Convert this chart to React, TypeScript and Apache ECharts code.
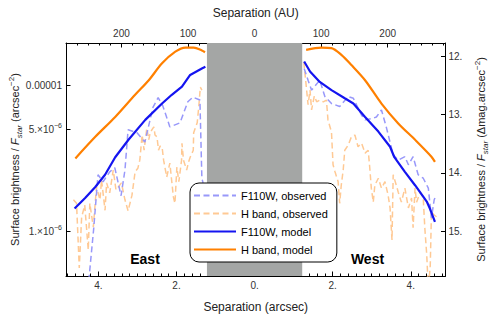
import React, { useEffect, useRef } from "react";
import * as echarts from "echarts";

// ---------- axes ----------
const SEP_MIN = -4.83; // arcsec (east negative)
const SEP_MAX = 4.89;
const AU_PER_ARCSEC = 58.65;
const MAG_TOP = 11.772; // Δmag at the top of the plot
const MAG_BOTTOM = 15.766; // Δmag at the bottom of the plot
const CORONAGRAPH = [-1.22, 1.22];

const sepTicks = [-4, -2, 0, 2, 4];
const auTicks = [-200, -100, 0, 100, 200];
const fluxTicks = [1e-6, 5e-6, 1e-5];
const fluxMinorTicks = [6e-7, 7e-7, 8e-7, 9e-7, 2e-6, 3e-6, 4e-6, 6e-6, 7e-6, 8e-6, 9e-6];
const magTicks = [12, 13, 14, 15];

// ---------- data: [separation (arcsec), Δmag] ----------
const f110wModelEast = [
  [-4.61, 14.61], [-4.34, 14.43], [-4.08, 14.24], [-3.83, 14.03], [-3.57, 13.73], [-3.23, 13.43],
  [-2.8, 13.09], [-2.37, 12.81], [-2.12, 12.66], [-1.86, 12.52], [-1.65, 12.32], [-1.35, 12.21], [-1.26, 12.18],
];
const f110wModelWest = [
  [1.27, 12.09], [1.42, 12.26], [1.67, 12.44], [1.97, 12.58], [2.31, 12.72], [2.53, 12.81], [2.83, 13.04],
  [3.17, 13.29], [3.47, 13.55], [3.58, 13.73], [3.85, 13.98], [4.11, 14.21], [4.41, 14.49], [4.49, 14.61], [4.62, 14.84],
];
const hModelEast = [
  [-4.59, 13.75], [-4.08, 13.38], [-3.57, 13.04], [-3.06, 12.66], [-2.71, 12.41], [-2.37, 12.12],
  [-2.03, 11.92], [-1.77, 11.85], [-1.56, 11.85], [-1.35, 11.9], [-1.27, 11.93],
];
const hModelWest = [
  [1.32, 11.89], [1.71, 11.85], [1.97, 11.86], [2.23, 11.98], [2.48, 12.15], [2.83, 12.41],
  [3.25, 12.81], [3.68, 13.15], [4.11, 13.43], [4.53, 13.72], [4.62, 13.81],
];
const f110wObsEast = [
  [-4.27, 16.01], [-4.12, 14.95], [-4.01, 14.03], [-3.88, 14.15], [-3.71, 13.98], [-3.58, 13.91], [-3.42, 14.39],
  [-3.32, 13.95], [-3.24, 13.26], [-3.01, 13.31], [-2.81, 13.47], [-2.6, 12.87], [-2.47, 12.71], [-2.35, 12.85],
  [-2.17, 13.21], [-1.91, 13.14], [-1.71, 12.78], [-1.58, 12.7], [-1.4, 12.75], [-1.35, 14.09], [-1.32, 14.17],
];
const f110wObsWest = [
  [1.27, 12.21], [1.37, 12.41], [1.46, 12.58], [1.67, 12.41], [1.8, 12.69], [1.97, 12.81], [2.18, 12.86],
  [2.4, 12.69], [2.53, 12.72], [2.74, 13.01], [2.83, 13.09], [3.04, 13.06], [3.12, 13.04], [3.25, 12.92],
  [3.38, 13.23], [3.55, 13.69], [3.68, 13.78], [3.85, 13.72], [3.94, 13.86], [4.06, 13.72], [4.19, 14.03],
  [4.32, 14.09], [4.45, 14.26], [4.53, 14.77], [4.6, 14.46], [4.65, 14.38],
];
const hObsEast = [
  [-4.64, 14.46], [-4.56, 14.52], [-4.49, 15.63], [-4.43, 14.76], [-4.35, 14.55], [-4.26, 15.32], [-4.22, 14.52],
  [-4.13, 14.93], [-4.05, 14.24], [-3.96, 14.46], [-3.92, 14.12], [-3.83, 14.64], [-3.79, 14.17], [-3.71, 14.34],
  [-3.62, 13.95], [-3.55, 14.29], [-3.49, 14.24], [-3.41, 14.17], [-3.32, 14.46], [-3.24, 14.65], [-3.14, 14.38],
  [-3.06, 13.98], [-2.99, 13.92], [-2.94, 13.78], [-2.88, 13.35], [-2.83, 13.61], [-2.76, 13.23], [-2.71, 13.43],
  [-2.67, 13.3], [-2.58, 13.21], [-2.55, 13.35], [-2.5, 13.38], [-2.46, 13.61], [-2.42, 13.54], [-2.37, 13.55],
  [-2.33, 13.78], [-2.25, 14.07], [-2.17, 13.83], [-2.08, 14.41], [-2.04, 14.52], [-1.99, 13.9], [-1.94, 14.15],
  [-1.87, 13.78], [-1.86, 13.49], [-1.82, 13.78], [-1.74, 13.95], [-1.69, 13.81], [-1.65, 13.73], [-1.57, 13.61],
  [-1.56, 13.31], [-1.47, 13.14], [-1.43, 12.87], [-1.39, 12.53], [-1.35, 12.58],
];
const hObsWest = [
  [1.26, 12.1], [1.32, 12.49], [1.37, 12.83], [1.42, 12.58], [1.46, 12.92], [1.53, 12.68], [1.59, 12.78],
  [1.67, 12.75], [1.76, 12.78], [1.84, 12.75], [1.88, 13.09], [1.97, 13.3], [2.01, 13.86], [2.06, 13.98],
  [2.14, 14.15], [2.18, 14.52], [2.22, 14.21], [2.27, 13.95], [2.31, 13.61], [2.4, 13.52], [2.48, 13.38],
  [2.57, 13.35], [2.65, 13.55], [2.74, 13.49], [2.83, 13.66], [2.91, 13.61], [2.95, 13.91], [2.99, 14.26],
  [3.04, 14.5], [3.08, 14.21], [3.17, 14.09], [3.25, 14.26], [3.34, 14.15], [3.42, 14.38], [3.47, 14.6],
  [3.52, 15.15], [3.55, 14.03], [3.63, 14.21], [3.68, 14.33], [3.76, 14.5], [3.85, 14.26], [3.94, 14.6],
  [4.02, 14.43], [4.06, 14.94], [4.11, 14.26], [4.15, 14.5], [4.24, 14.33], [4.32, 14.43], [4.36, 14.94],
  [4.41, 15.41], [4.45, 16.01], [4.5, 15.58], [4.53, 14.67], [4.6, 14.72], [4.66, 14.75],
];

const seriesNames = ["F110W, observed", "H band, observed", "F110W, model", "H band, model"];

const FONT = '"Liberation Sans", Arial, "DejaVu Sans", sans-serif';
const INK = "#222";

function joinSides(east: number[][], west: number[][]) {
  return [...east, [0, "-"], ...west];
}

function minorList(from: number, to: number, step: number, skipEvery: number) {
  const out: number[] = [];
  for (let i = Math.round(from / step); i <= Math.round(to / step); i++) {
    const v = +(i * step).toFixed(6);
    if (Math.abs(v / skipEvery - Math.round(v / skipEvery)) < 1e-6) continue;
    out.push(v);
  }
  return out;
}

const sepMinor = minorList(-4.8, 4.8, 0.2, 2);
const auMinor = minorList(-300, 300, 100 / 6, 100);
const magMinor = minorList(11.8, 15.6, 0.2, 1);

const nameRich = {
  t: { fontSize: 11, fontFamily: FONT, color: INK, lineHeight: 16 },
  i: { fontSize: 11, fontFamily: FONT, color: INK, fontStyle: "italic", lineHeight: 16 },
  sub: { fontSize: 8, fontFamily: FONT, color: INK, fontStyle: "italic", verticalAlign: "bottom", lineHeight: 9 },
  sup: { fontSize: 8, fontFamily: FONT, color: INK, verticalAlign: "top", lineHeight: 9 },
};

const lineAxis = { show: true, onZero: false, lineStyle: { color: "#000", width: 1 } };
const labelBase = { fontSize: 10, fontFamily: FONT, color: "#333" };

function minorAxis(extra: any, ticks: number[]) {
  return {
    type: "value",
    ...extra,
    axisLine: { show: false },
    axisTick: { show: true, inside: true, length: 2.5, customValues: ticks, lineStyle: { color: "#000", width: 1 } },
    axisLabel: { show: false },
    splitLine: { show: false },
  };
}

export default function App() {
  const ref = useRef<HTMLDivElement>(null);

  useEffect(() => {
    const chart = echarts.init(ref.current as HTMLDivElement, null, { renderer: "svg" });
    const option: any = {
      animation: false,
      backgroundColor: "#fff",
      grid: { left: 66, right: 45.5, top: 43, bottom: 44, containLabel: false, outerBoundsMode: "none" },
      xAxis: [
        {
          type: "value",
          position: "bottom",
          min: SEP_MIN,
          max: SEP_MAX,
          axisLine: lineAxis,
          axisTick: { show: true, inside: true, length: 4.5, customValues: sepTicks, lineStyle: { color: "#000" } },
          axisLabel: { ...labelBase, customValues: sepTicks, margin: 4, formatter: (v: number) => `${Math.abs(v)}.` },
          splitLine: { show: false },
          name: "Separation (arcsec)",
          nameLocation: "middle",
          nameGap: 25,
          nameTextStyle: { fontSize: 12, fontFamily: FONT, color: INK },
        },
        {
          type: "value",
          position: "top",
          min: SEP_MIN * AU_PER_ARCSEC,
          max: SEP_MAX * AU_PER_ARCSEC,
          axisLine: lineAxis,
          axisTick: { show: true, inside: true, length: 4.5, customValues: auTicks, lineStyle: { color: "#000" } },
          axisLabel: { ...labelBase, customValues: auTicks, margin: 5, formatter: (v: number) => `${Math.abs(v)}` },
          splitLine: { show: false },
          name: "Separation (AU)",
          nameLocation: "middle",
          nameGap: 24,
          nameTextStyle: { fontSize: 12, fontFamily: FONT, color: INK },
        },
        minorAxis({ position: "bottom", min: SEP_MIN, max: SEP_MAX }, sepMinor),
        minorAxis({ position: "top", min: SEP_MIN * AU_PER_ARCSEC, max: SEP_MAX * AU_PER_ARCSEC }, auMinor),
      ],
      yAxis: [
        {
          // log10 of surface brightness ratio (secondary scale, ticks only)
          type: "value",
          position: "left",
          min: -MAG_BOTTOM / 2.5,
          max: -MAG_TOP / 2.5,
          axisLine: lineAxis,
          axisTick: {
            show: true,
            inside: true,
            length: 4.5,
            customValues: fluxTicks.map((f) => Math.log10(f)),
            lineStyle: { color: "#000" },
          },
          axisLabel: {
            ...labelBase,
            margin: 4,
            customValues: fluxTicks.map((f) => Math.log10(f)),
            formatter: (v: number) => {
              const f = Math.pow(10, v);
              if (Math.abs(f - 1e-5) < 1e-9) return "0.00001";
              const exp = Math.floor(v + 1e-9);
              const mant = Math.round(f / Math.pow(10, exp));
              return `{m|${mant}.\u00d710}{e|\u2212${-exp}}`;
            },
            rich: {
              m: { fontSize: 10, fontFamily: FONT, color: "#333", lineHeight: 14 },
              e: { fontSize: 7, fontFamily: FONT, color: "#333", verticalAlign: "top", lineHeight: 8 },
            },
          },
          splitLine: { show: false },
          name: "{t|Surface brightness / }{i|F}{sub|star}{t| (arcsec}{sup|\u22122}{t|)}",
          nameLocation: "middle",
          nameRotate: 90,
          nameGap: 43,
          nameMoveOverlap: false,
          nameTextStyle: { fontSize: 11, fontFamily: FONT, color: INK, rich: nameRich },
        },
        {
          type: "value",
          position: "right",
          inverse: true,
          min: MAG_TOP,
          max: MAG_BOTTOM,
          axisLine: lineAxis,
          axisTick: { show: true, inside: true, length: 4.5, customValues: magTicks, lineStyle: { color: "#000" } },
          axisLabel: { ...labelBase, customValues: magTicks, margin: 3, formatter: (v: number) => `${v}.` },
          splitLine: { show: false },
          name: "{t|Surface brightness / }{i|F}{sub|star}{t| (\u0394mag.arcsec}{sup|\u22122}{t|)}",
          nameLocation: "middle",
          nameRotate: 90,
          nameGap: 26,
          nameTextStyle: { fontSize: 11, fontFamily: FONT, color: INK, rich: nameRich },
        },
        minorAxis({ position: "left", min: -MAG_BOTTOM / 2.5, max: -MAG_TOP / 2.5 }, fluxMinorTicks.map((f) => Math.log10(f))),
        minorAxis({ position: "right", inverse: true, min: MAG_TOP, max: MAG_BOTTOM }, magMinor),
      ],
      legend: {
        data: seriesNames,
        orient: "vertical",
        left: 190,
        top: 183,
        itemWidth: 42,
        itemHeight: 10,
        itemGap: 7,
        padding: [7, 9, 7, 3],
        borderColor: "#000",
        borderWidth: 1,
        borderRadius: 9,
        backgroundColor: "#fff",
        itemStyle: { opacity: 0, borderWidth: 0 },
        textStyle: { fontSize: 11, fontFamily: FONT, color: "#000" },
      },
      graphic: [
        {
          type: "text",
          x: 145,
          y: 259,
          style: { text: "East", font: `bold 14px ${FONT}`, fill: "#000", align: "center", verticalAlign: "middle" },
        },
        {
          type: "text",
          x: 367.5,
          y: 259,
          style: { text: "West", font: `bold 14px ${FONT}`, fill: "#000", align: "center", verticalAlign: "middle" },
        },
      ],
      series: [
        {
          name: seriesNames[1],
          type: "line",
          xAxisIndex: 0,
          yAxisIndex: 1,
          symbol: "none",
          showSymbol: false,
          z: 2,
          data: joinSides(hObsEast, hObsWest),
          lineStyle: { color: "#ffc994", width: 1.5, type: [6, 3.5] },
          itemStyle: { color: "#ffc994" },
          markArea: {
            silent: true,
            label: { show: false },
            itemStyle: { color: "#a4a6a5", opacity: 1 },
            data: [[{ xAxis: CORONAGRAPH[0] }, { xAxis: CORONAGRAPH[1] }]],
          },
        },
        {
          name: seriesNames[0],
          type: "line",
          xAxisIndex: 0,
          yAxisIndex: 1,
          symbol: "none",
          showSymbol: false,
          z: 3,
          data: joinSides(f110wObsEast, f110wObsWest),
          lineStyle: { color: "#9898fa", width: 1.5, type: [6, 3.5] },
          itemStyle: { color: "#9898fa" },
        },
        {
          name: seriesNames[2],
          type: "line",
          xAxisIndex: 0,
          yAxisIndex: 1,
          symbol: "none",
          showSymbol: false,
          z: 4,
          data: joinSides(f110wModelEast, f110wModelWest),
          lineStyle: { color: "#1414f0", width: 2.2 },
          itemStyle: { color: "#1414f0" },
        },
        {
          name: seriesNames[3],
          type: "line",
          xAxisIndex: 0,
          yAxisIndex: 1,
          symbol: "none",
          showSymbol: false,
          smooth: 0.3,
          z: 4,
          data: joinSides(hModelEast, hModelWest),
          lineStyle: { color: "#ff8000", width: 2.2 },
          itemStyle: { color: "#ff8000" },
        },
      ],
    };
    chart.setOption(option);
    return () => chart.dispose();
  }, []);

  return (
    <div
      ref={ref}
      style={{ position: "absolute", left: 0, top: 0, width: 491, height: 320, background: "#fff" }}
    />
  );
}
